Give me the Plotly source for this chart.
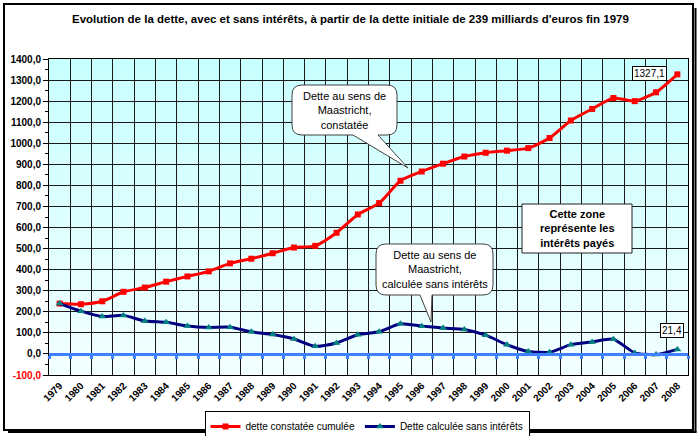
import plotly.graph_objects as go

# ---- data ----
years = [str(y) for y in range(1979, 2009)]

dette_constatee = [239, 236, 250, 295, 315, 343, 368, 392, 430, 452,
                   478, 505, 513, 575, 662, 716, 822, 866, 903, 937,
                   955, 965, 977, 1025, 1108, 1163, 1215, 1200, 1242, 1327.1]

dette_sans_interets = [239, 203, 178, 183, 156, 150, 133, 126, 127, 105,
                       92, 71, 36, 52, 91, 105, 143, 132, 123, 116,
                       89, 44, 12, 8, 44, 57, 70, 5, -3, 21.4]

y_ticks = list(range(-100, 1401, 100))

# ---- geometry helpers (pixels -> paper coords) ----
W, H = 700, 436
ML, MR, MT, MB = 49, 12, 59, 61
FONT = "Arial, Liberation Sans, sans-serif"


def px(x):
   return (x - ML) / (W - ML - MR)


def py(y):
   return (H - MB - y) / (H - MT - MB)


def fmt(v):
   return f"{v:.1f}".replace(".", ",")


def callout_path(x0, y0, x1, y1, r, tail):
   """Rounded box with a wedge tail on its bottom edge (pixel coords)."""
   bx0, bx1, tx, ty = tail
   pts = [
      ("M", [(x0 + r, y0)]),
      ("L", [(x1 - r, y0)]),
      ("Q", [(x1, y0), (x1, y0 + r)]),
      ("L", [(x1, y1 - r)]),
      ("Q", [(x1, y1), (x1 - r, y1)]),
      ("L", [(bx1, y1)]),
      ("L", [(tx, ty)]),
      ("L", [(bx0, y1)]),
      ("L", [(x0 + r, y1)]),
      ("Q", [(x0, y1), (x0, y1 - r)]),
      ("L", [(x0, y0 + r)]),
      ("Q", [(x0, y0), (x0 + r, y0)]),
   ]
   out = ""
   for cmd, coords in pts:
      out += cmd + " ".join(f"{px(a):.5f},{py(b):.5f}" for a, b in coords) + " "
   return out + "Z"


def paper_text(text, x, y, size=11, bold=False):
   font = dict(size=size, family=FONT, color="black")
   if bold:
      font["weight"] = "bold"
   return dict(text=text, xref="paper", yref="paper", x=px(x), y=py(y),
               xanchor="center", yanchor="middle", showarrow=False, font=font)


fig = go.Figure()

fig.add_trace(go.Scatter(
   x=years, y=dette_constatee, name="dette constatée cumulée",
   mode="lines+markers", line=dict(color="#FF0000", width=3, shape="spline", smoothing=0.6),
   marker=dict(symbol="square", size=6, color="#FF0000"),
))
fig.add_trace(go.Scatter(
   x=years, y=dette_sans_interets, name="Dette calculée sans intérêts",
   mode="lines+markers", line=dict(color="#000080", width=3, shape="spline", smoothing=0.6),
   marker=dict(symbol="triangle-up", size=7, color="#008080"),
))
# empty trace so the overlaying zero axis gets drawn
fig.add_trace(go.Scatter(x=[], y=[], xaxis="x2", showlegend=False, hoverinfo="skip"))

# background gradient (light cyan at the top, almost white at the bottom)
shapes = []
n_bands = 40
top, bot = (200, 255, 255), (242, 255, 255)
for i in range(n_bands):
   t = i / (n_bands - 1)
   c = tuple(round(top[k] + (bot[k] - top[k]) * t) for k in range(3))
   shapes.append(dict(type="rect", xref="paper", yref="paper", layer="below",
                      x0=0, x1=1, y1=1 - i / n_bands, y0=1 - (i + 1) / n_bands,
                      fillcolor=f"rgb{c}", line=dict(width=0)))

# outer frame with shadow
shapes.append(dict(type="rect", xref="paper", yref="paper", x0=px(4), x1=px(693),
                   y0=py(430), y1=py(4), line=dict(color="black", width=2)))
shapes.append(dict(type="line", xref="paper", yref="paper", x0=px(695.5), x1=px(695.5),
                   y0=py(8), y1=py(432.5), line=dict(color="black", width=2)))
shapes.append(dict(type="line", xref="paper", yref="paper", x0=px(8), x1=px(696.5),
                   y0=py(432), y1=py(432), line=dict(color="black", width=2)))

# speech bubbles
shapes.append(dict(type="path", xref="paper", yref="paper",
                   path=callout_path(292, 85, 397, 135, 10, (353, 378, 408, 168)),
                   fillcolor="white", line=dict(color="#404040", width=1)))
shapes.append(dict(type="path", xref="paper", yref="paper",
                   path=callout_path(376, 244, 493, 295, 10, (420, 432, 431, 322)),
                   fillcolor="white", line=dict(color="#404040", width=1)))
# "Cette zone" box
shapes.append(dict(type="rect", xref="paper", yref="paper", x0=px(522), x1=px(632),
                   y0=py(253), y1=py(204), fillcolor="white",
                   line=dict(color="#202020", width=1)))

last = len(years) - 1
annotations = [
   paper_text("Evolution de la dette, avec et sans intérêts, à partir de la dette initiale "
              "de 239 milliards d'euros fin 1979", 350, 19, size=11.5, bold=True),
   paper_text("Dette au sens de<br>Maastricht,<br>constatée", 344.5, 110),
   paper_text("Dette au sens de<br>Maastricht,<br>calculée sans intérêts", 434.5, 269.5),
   paper_text("Cette zone<br>représente les<br>intérêts payés", 577, 228.5, bold=True),
   dict(text=fmt(dette_constatee[-1]), x=last, y=dette_constatee[-1],
        xref="x", yref="y", xanchor="right", yanchor="middle", xshift=-10, yshift=1,
        showarrow=False, bgcolor="white", bordercolor="black", borderwidth=1, borderpad=1,
        font=dict(size=10, family=FONT, color="black")),
   dict(text=fmt(dette_sans_interets[-1]), x=last, y=dette_sans_interets[-1],
        xref="x", yref="y", xanchor="center", yanchor="middle", xshift=-5, yshift=19,
        showarrow=False, bgcolor="white", bordercolor="black", borderwidth=1, borderpad=1,
        font=dict(size=10, family=FONT, color="black")),
]

y_text = [f'<span style="color:red">{fmt(v)}</span>' if v < 0 else fmt(v) for v in y_ticks]

fig.update_layout(
   width=W, height=H,
   margin=dict(l=ML, r=MR, t=MT, b=MB, autoexpand=False),
   paper_bgcolor="white", plot_bgcolor="rgb(242,255,255)",
   font=dict(family=FONT, color="black"),
   shapes=shapes, annotations=annotations,
   showlegend=True,
   legend=dict(orientation="h", x=px(367), xanchor="center", y=py(411), yanchor="top",
               bgcolor="white", bordercolor="black", borderwidth=1,
               font=dict(size=10, family=FONT), itemwidth=30, tracegroupgap=0),
   xaxis=dict(type="category", categoryorder="array", categoryarray=years,
              range=[-0.5, len(years) - 0.5], tickson="boundaries",
              showgrid=True, gridcolor="#1a1a1a", gridwidth=1,
              showline=True, linecolor="black", linewidth=1, mirror=True,
              ticks="", tickangle=-45, zeroline=False, automargin=False,
              tickfont=dict(size=10, family=FONT, weight="bold")),
   # the blue category axis crossing at zero
   xaxis2=dict(overlaying="x", anchor="free", position=(0 - y_ticks[0]) / (y_ticks[-1] - y_ticks[0]),
               type="linear", range=[-0.5, len(years) - 0.5], tickmode="linear", tick0=0.5, dtick=1,
               showline=True, linecolor="#4080FF", linewidth=3,
               ticks="outside", ticklen=3, tickwidth=3, tickcolor="#4080FF",
               showticklabels=False, showgrid=False, zeroline=False),
   yaxis=dict(range=[y_ticks[0], y_ticks[-1]], tickmode="array",
              tickvals=y_ticks, ticktext=y_text, automargin=False,
              showgrid=True, gridcolor="#1a1a1a", gridwidth=1,
              showline=True, linecolor="black", linewidth=1, mirror=True,
              ticks="outside", ticklen=5, tickcolor="black", zeroline=False,
              minor=dict(dtick=50, tick0=0, ticks="outside", ticklen=3,
                         tickcolor="black", showgrid=False),
              tickfont=dict(size=10, family=FONT, weight="bold")),
)

# drop the browser's default body margin so the figure sits at the page corner
fig.write_html("out.html", config={"displayModeBar": False},
               post_script="document.body.style.margin='0';")
